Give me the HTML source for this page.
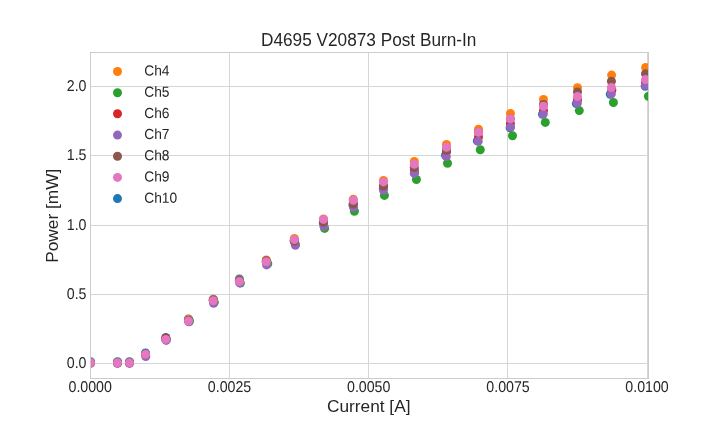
<!DOCTYPE html>
<html><head><meta charset="utf-8"><title>D4695 V20873 Post Burn-In</title>
<style>
html,body{margin:0;padding:0;background:#fff;}
svg{display:block;font-family:"Liberation Sans",Arial,sans-serif;fill:#262626;}
</style></head><body>
<svg width="720" height="432" viewBox="0 0 720 432">
<rect width="720" height="432" fill="#fff"/>
<defs><clipPath id="ax"><rect x="90" y="51.84" width="558" height="326.16"/></clipPath></defs>
<g stroke="#d6d6d6" stroke-width="1" fill="none" shape-rendering="crispEdges">
<line x1="229.5" x2="229.5" y1="51.84" y2="378.00"/>
<line x1="368.5" x2="368.5" y1="51.84" y2="378.00"/>
<line x1="507.5" x2="507.5" y1="51.84" y2="378.00"/>
<line x1="647.5" x2="647.5" y1="51.84" y2="378.00"/>
<line x1="90" x2="648" y1="363.5" y2="363.5"/>
<line x1="90" x2="648" y1="294.5" y2="294.5"/>
<line x1="90" x2="648" y1="225.5" y2="225.5"/>
<line x1="90" x2="648" y1="155.5" y2="155.5"/>
<line x1="90" x2="648" y1="86.5" y2="86.5"/>
</g>
<g clip-path="url(#ax)">
<g fill="#1f77b4">
<circle cx="90.5" cy="361.7" r="4.5"/><circle cx="117.5" cy="361.7" r="4.5"/><circle cx="129.5" cy="361.7" r="4.5"/><circle cx="145.5" cy="353.0" r="4.5"/><circle cx="165.8" cy="337.4" r="4.5"/><circle cx="188.5" cy="319.0" r="4.5"/><circle cx="213.3" cy="299.2" r="4.5"/><circle cx="239.4" cy="279.0" r="4.5"/><circle cx="266.3" cy="261.7" r="4.5"/><circle cx="294.4" cy="241.6" r="4.5"/><circle cx="323.3" cy="222.9" r="4.5"/><circle cx="353.0" cy="205.2" r="4.5"/><circle cx="383.3" cy="188.4" r="4.5"/><circle cx="414.5" cy="172.8" r="4.5"/><circle cx="445.5" cy="155.2" r="4.5"/><circle cx="477.3" cy="140.9" r="4.5"/><circle cx="510.1" cy="127.7" r="4.5"/><circle cx="542.5" cy="114.3" r="4.5"/><circle cx="576.3" cy="103.6" r="4.5"/><circle cx="610.3" cy="94.2" r="4.5"/><circle cx="645.2" cy="86.2" r="4.5"/>
</g>
<g fill="#ff7f0e">
<circle cx="90.5" cy="362.7" r="4.5"/><circle cx="117.5" cy="362.7" r="4.5"/><circle cx="129.5" cy="362.7" r="4.5"/><circle cx="145.5" cy="354.3" r="4.5"/><circle cx="165.8" cy="338.9" r="4.5"/><circle cx="188.5" cy="319.6" r="4.5"/><circle cx="213.3" cy="299.7" r="4.5"/><circle cx="239.4" cy="280.1" r="4.5"/><circle cx="266.3" cy="259.9" r="4.5"/><circle cx="294.4" cy="238.5" r="4.5"/><circle cx="323.5" cy="218.9" r="4.5"/><circle cx="353.3" cy="199.2" r="4.5"/><circle cx="383.5" cy="180.5" r="4.5"/><circle cx="414.3" cy="161.4" r="4.5"/><circle cx="446.5" cy="144.5" r="4.5"/><circle cx="478.5" cy="129.3" r="4.5"/><circle cx="510.4" cy="113.4" r="4.5"/><circle cx="543.5" cy="99.5" r="4.5"/><circle cx="577.5" cy="87.7" r="4.5"/><circle cx="611.6" cy="75.1" r="4.5"/><circle cx="645.6" cy="67.4" r="4.5"/>
</g>
<g fill="#2ca02c">
<circle cx="90.5" cy="362.7" r="4.5"/><circle cx="117.5" cy="362.7" r="4.5"/><circle cx="129.5" cy="362.7" r="4.5"/><circle cx="145.5" cy="354.3" r="4.5"/><circle cx="166.3" cy="339.4" r="4.5"/><circle cx="189.5" cy="321.0" r="4.5"/><circle cx="214.3" cy="302.2" r="4.5"/><circle cx="240.4" cy="283.1" r="4.5"/><circle cx="267.8" cy="263.7" r="4.5"/><circle cx="295.5" cy="244.6" r="4.5"/><circle cx="324.6" cy="228.4" r="4.5"/><circle cx="354.4" cy="211.2" r="4.5"/><circle cx="384.4" cy="195.4" r="4.5"/><circle cx="416.4" cy="179.5" r="4.5"/><circle cx="447.5" cy="163.2" r="4.5"/><circle cx="480.3" cy="149.7" r="4.5"/><circle cx="512.5" cy="135.7" r="4.5"/><circle cx="545.3" cy="122.4" r="4.5"/><circle cx="579.3" cy="110.6" r="4.5"/><circle cx="613.4" cy="102.5" r="4.5"/><circle cx="648.4" cy="96.3" r="4.5"/>
</g>
<g fill="#d62728">
<circle cx="90.5" cy="362.7" r="4.5"/><circle cx="117.5" cy="362.7" r="4.5"/><circle cx="129.5" cy="362.7" r="4.5"/><circle cx="145.5" cy="354.3" r="4.5"/><circle cx="165.8" cy="338.4" r="4.5"/><circle cx="188.5" cy="320.5" r="4.5"/><circle cx="213.3" cy="300.2" r="4.5"/><circle cx="239.4" cy="281.1" r="4.5"/><circle cx="266.3" cy="261.7" r="4.5"/><circle cx="294.1" cy="240.6" r="4.5"/><circle cx="323.5" cy="221.4" r="4.5"/><circle cx="353.3" cy="203.2" r="4.5"/><circle cx="383.5" cy="185.9" r="4.5"/><circle cx="414.3" cy="170.0" r="4.5"/><circle cx="446.5" cy="152.0" r="4.5"/><circle cx="478.5" cy="137.0" r="4.5"/><circle cx="510.4" cy="123.7" r="4.5"/><circle cx="543.5" cy="110.5" r="4.5"/><circle cx="577.5" cy="100.0" r="4.5"/><circle cx="611.9" cy="90.0" r="4.5"/><circle cx="645.5" cy="82.6" r="4.5"/>
</g>
<g fill="#9467bd">
<circle cx="90.5" cy="363.3" r="4.5"/><circle cx="117.5" cy="363.3" r="4.5"/><circle cx="129.5" cy="363.3" r="4.5"/><circle cx="145.8" cy="356.5" r="4.5"/><circle cx="166.2" cy="340.4" r="4.5"/><circle cx="189.0" cy="321.8" r="4.5"/><circle cx="213.6" cy="303.3" r="4.5"/><circle cx="239.7" cy="282.9" r="4.5"/><circle cx="266.6" cy="264.9" r="4.5"/><circle cx="295.4" cy="245.2" r="4.5"/><circle cx="323.9" cy="226.3" r="4.5"/><circle cx="353.5" cy="207.2" r="4.5"/><circle cx="383.5" cy="190.2" r="4.5"/><circle cx="414.3" cy="173.4" r="4.5"/><circle cx="446.3" cy="156.6" r="4.5"/><circle cx="478.2" cy="141.2" r="4.5"/><circle cx="510.5" cy="127.1" r="4.5"/><circle cx="543.3" cy="114.1" r="4.5"/><circle cx="577.3" cy="103.3" r="4.5"/><circle cx="611.3" cy="93.9" r="4.5"/><circle cx="645.3" cy="85.5" r="4.5"/>
</g>
<g fill="#8c564b">
<circle cx="90.5" cy="362.7" r="4.5"/><circle cx="117.5" cy="362.7" r="4.5"/><circle cx="129.5" cy="362.7" r="4.5"/><circle cx="145.5" cy="354.3" r="4.5"/><circle cx="165.8" cy="339.4" r="4.5"/><circle cx="188.5" cy="321.0" r="4.5"/><circle cx="213.3" cy="300.7" r="4.5"/><circle cx="239.4" cy="280.6" r="4.5"/><circle cx="266.3" cy="260.7" r="4.5"/><circle cx="294.4" cy="241.0" r="4.5"/><circle cx="323.5" cy="222.2" r="4.5"/><circle cx="353.3" cy="204.1" r="4.5"/><circle cx="383.5" cy="186.1" r="4.5"/><circle cx="414.3" cy="167.5" r="4.5"/><circle cx="446.5" cy="150.4" r="4.5"/><circle cx="478.5" cy="132.3" r="4.5"/><circle cx="510.4" cy="118.7" r="4.5"/><circle cx="543.5" cy="104.4" r="4.5"/><circle cx="577.5" cy="91.9" r="4.5"/><circle cx="611.4" cy="81.3" r="4.5"/><circle cx="645.5" cy="73.7" r="4.5"/>
</g>
<g fill="#e377c2">
<circle cx="90.5" cy="362.7" r="4.5"/><circle cx="117.5" cy="362.7" r="4.5"/><circle cx="129.5" cy="362.7" r="4.5"/><circle cx="145.5" cy="354.3" r="4.5"/><circle cx="165.8" cy="339.4" r="4.5"/><circle cx="188.5" cy="321.0" r="4.5"/><circle cx="213.3" cy="300.7" r="4.5"/><circle cx="239.4" cy="281.6" r="4.5"/><circle cx="266.3" cy="261.7" r="4.5"/><circle cx="294.4" cy="239.6" r="4.5"/><circle cx="323.5" cy="219.4" r="4.5"/><circle cx="353.3" cy="200.2" r="4.5"/><circle cx="383.5" cy="181.9" r="4.5"/><circle cx="414.3" cy="164.2" r="4.5"/><circle cx="446.5" cy="147.2" r="4.5"/><circle cx="478.5" cy="132.3" r="4.5"/><circle cx="510.4" cy="118.7" r="4.5"/><circle cx="543.5" cy="106.3" r="4.5"/><circle cx="577.5" cy="96.5" r="4.5"/><circle cx="611.4" cy="87.5" r="4.5"/><circle cx="645.5" cy="79.6" r="4.5"/>
</g>
</g>
<g stroke="#cccccc" stroke-width="1" fill="none" shape-rendering="crispEdges">
<line x1="90.5" x2="90.5" y1="52" y2="379"/>
<line x1="648.5" x2="648.5" y1="52" y2="379"/>
<line x1="90" x2="649" y1="52.5" y2="52.5"/>
<line x1="90" x2="649" y1="378.5" y2="378.5"/>
</g>
<g font-size="14.2px"><text transform="translate(90.2 392.0) rotate(0.05) scale(1 1.1)" text-anchor="middle">0.0000</text><text transform="translate(229.5 392.0) rotate(0.05) scale(1 1.1)" text-anchor="middle">0.0025</text><text transform="translate(368.7 392.0) rotate(0.05) scale(1 1.1)" text-anchor="middle">0.0050</text><text transform="translate(508.0 392.0) rotate(0.05) scale(1 1.1)" text-anchor="middle">0.0075</text><text transform="translate(647.0 392.0) rotate(0.05) scale(1 1.1)" text-anchor="middle">0.0100</text><text transform="translate(86.5 368.0) rotate(0.05) scale(1 1.1)" text-anchor="end">0.0</text><text transform="translate(86.5 299.0) rotate(0.05) scale(1 1.1)" text-anchor="end">0.5</text><text transform="translate(86.5 230.0) rotate(0.05) scale(1 1.1)" text-anchor="end">1.0</text><text transform="translate(86.5 160.0) rotate(0.05) scale(1 1.1)" text-anchor="end">1.5</text><text transform="translate(86.5 91.0) rotate(0.05) scale(1 1.1)" text-anchor="end">2.0</text></g>
<g font-size="14px"><circle cx="117.5" cy="71.5" r="4.5" fill="#ff7f0e"/><text transform="translate(144.2 75.5) rotate(0.05) scale(0.985 1.04)">Ch4</text><circle cx="117.5" cy="92.7" r="4.5" fill="#2ca02c"/><text transform="translate(144.2 96.7) rotate(0.05) scale(0.985 1.04)">Ch5</text><circle cx="117.5" cy="113.8" r="4.5" fill="#d62728"/><text transform="translate(144.2 117.9) rotate(0.05) scale(0.985 1.04)">Ch6</text><circle cx="117.5" cy="135.1" r="4.5" fill="#9467bd"/><text transform="translate(144.2 139.1) rotate(0.05) scale(0.985 1.04)">Ch7</text><circle cx="117.5" cy="156.2" r="4.5" fill="#8c564b"/><text transform="translate(144.2 160.3) rotate(0.05) scale(0.985 1.04)">Ch8</text><circle cx="117.5" cy="177.4" r="4.5" fill="#e377c2"/><text transform="translate(144.2 181.5) rotate(0.05) scale(0.985 1.04)">Ch9</text><circle cx="117.5" cy="198.6" r="4.5" fill="#1f77b4"/><text transform="translate(144.2 202.7) rotate(0.05) scale(0.985 1.04)">Ch10</text></g>
<text transform="translate(368.7 46) rotate(0.02) scale(1 1.05)" font-size="17.23px" text-anchor="middle">D4695 V20873 Post Burn-In</text>
<text transform="translate(368.7 412)" font-size="17.3px" text-anchor="middle">Current [A]</text>
<text transform="translate(57.8 215.8) rotate(-90)" font-size="17.3px" text-anchor="middle">Power [mW]</text>
</svg>
</body></html>
